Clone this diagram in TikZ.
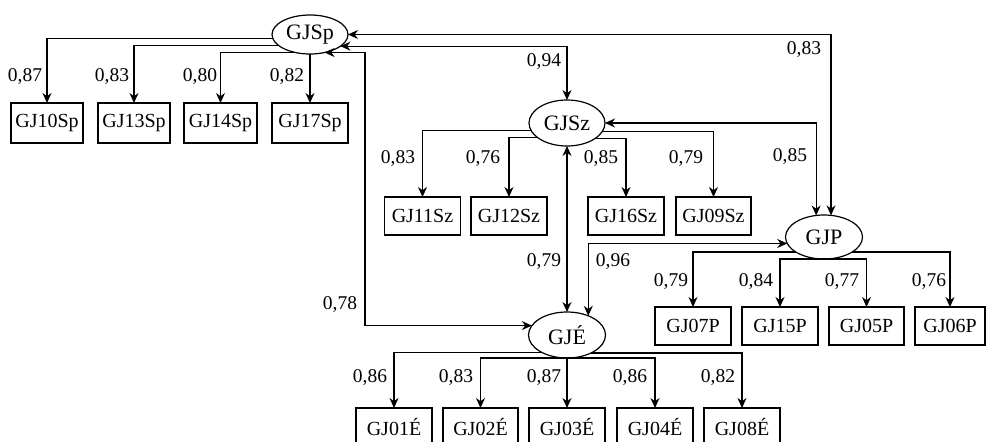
\documentclass[tikz,border=0pt]{standalone}
\usepackage{fontspec}
\setmainfont{Liberation Serif}
\usetikzlibrary{arrows.meta,shapes.geometric}
\tikzset{
  lat/.style={ellipse, draw, line width=1.2pt, fill=white, inner sep=0pt, outer sep=0pt,
    minimum width=76pt, minimum height=#1, font=\fontsize{22}{24}\selectfont},
  lat/.default=40pt,
  ind/.style={rectangle, draw, line width=1.2pt, inner sep=0pt, outer sep=0pt,
    minimum height=38pt, minimum width=75pt, font=\fontsize{20}{22}\selectfont},
  coef/.style={inner sep=0pt, font=\fontsize{19.5}{21}\selectfont},
  arr/.style={line width=1.2pt, -{Stealth[length=10pt,width=9pt]}},
  barr/.style={line width=1.2pt, {Stealth[length=10pt,width=9pt]}-{Stealth[length=10pt,width=9pt]}},
}
\begin{document}
\begin{tikzpicture}[x=1pt,y=-1pt]
\useasboundingbox (0,0) rectangle (986,442);
% latent variables
\node[lat=39pt] (GJSp) at (310,34.5) {GJSp};
\node[lat=46pt] (GJSz) at (567,123) {GJSz};
\node[lat=46pt, minimum width=77pt] (GJE) at (567,335) {GJÉ};
\node[lat=44pt, minimum width=77pt] (GJP) at (824,237) {GJP};
% indicators GJSp
\node[ind, minimum width=72pt, minimum height=40pt] (GJ10Sp) at (47,123) {GJ10Sp};
\node[ind, minimum width=72pt, minimum height=40pt] (GJ13Sp) at (134,123) {GJ13Sp};
\node[ind, minimum width=73pt, minimum height=40pt] (GJ14Sp) at (220.5,123) {GJ14Sp};
\node[ind, minimum width=76pt, minimum height=40pt] (GJ17Sp) at (310,123) {GJ17Sp};
% indicators GJSz
\node[ind, minimum width=76pt] (GJ11Sz) at (422.5,216) {GJ11Sz};
\node[ind, minimum width=76pt] (GJ12Sz) at (509,216) {GJ12Sz};
\node[ind, minimum width=76pt] (GJ16Sz) at (626,216) {GJ16Sz};
\node[ind, minimum width=75pt] (GJ09Sz) at (713.5,216) {GJ09Sz};
% indicators GJP
\node[ind, minimum width=76pt] (GJ07P) at (693,326) {GJ07P};
\node[ind, minimum width=76pt] (GJ15P) at (780,326) {GJ15P};
\node[ind, minimum width=75pt] (GJ05P) at (866.5,326) {GJ05P};
\node[ind, minimum width=70pt] (GJ06P) at (950,326) {GJ06P};
% indicators GJE
\node[ind, minimum width=76pt] (GJ01E) at (394,427) {GJ01É};
\node[ind, minimum width=75pt] (GJ02E) at (480.5,427) {GJ02É};
\node[ind, minimum width=76pt] (GJ03E) at (567,427) {GJ03É};
\node[ind, minimum width=76pt] (GJ04E) at (655,427) {GJ04É};
\node[ind, minimum width=76pt] (GJ08E) at (742,427) {GJ08É};
% loadings GJSp
\draw[arr] (GJSp.186.1) -| (GJ10Sp.north);
\draw[arr] (GJSp.200.5) -| (GJ13Sp.north);
\draw[arr] (GJSp.230.9) -| (GJ14Sp.north);
\draw[arr] (GJSp.south) -- (GJ17Sp.north);
% correlations
\draw[barr] (GJSp.east) -| (GJP.72);
\draw[barr] (GJSp.339.5) -| (GJSz.north);
\coordinate (k78) at (365,200);
\draw[barr] (GJSp.309.1) -| (k78) |- (GJE.165.7);
\draw[barr] (GJSz.east) -| (GJP.110.4);
\draw[barr] (GJSz.south) -- (GJE.north);
\draw[barr] (GJE.42.6) |- (GJP.190.9);
% loadings GJSz
\draw[arr] (GJSz.192.7) -| (GJ11Sz.north);
\draw[arr] (GJSz.207.5) -| (GJ12Sz.north);
\draw[arr] (GJSz.332.5) -| (GJ16Sz.north);
\draw[arr] (GJSz.347.3) -| (GJ09Sz.north);
% loadings GJE
\draw[arr] (GJE.216.9) -| (GJ01E.north);
\draw[arr] (GJE.south) -| (GJ02E.north);
\draw[arr] (GJE.south) -- (GJ03E.north);
\draw[arr] (GJE.south) -| (GJ04E.north);
\draw[arr] (GJE.323.1) -| (GJ08E.north);
% loadings GJP
\draw[arr] (GJP.208) -| (GJ07P.north);
\draw[arr] (GJP.south) -| (GJ15P.north);
\draw[arr] (GJP.south) -| (GJ05P.north);
\draw[arr] (GJP.332) -| (GJ06P.north);
% coefficient labels
\node[coef] (c1) at (25,77) {0,87};
\node[coef] (c2) at (112,77) {0,83};
\node[coef] (c3) at (200,77) {0,80};
\node[coef] (c4) at (287,77) {0,82};
\node[coef] (c5) at (544,62) {0,94};
\node[coef] (c6) at (804,50) {0,83};
\node[coef] (c7) at (398,159) {0,83};
\node[coef] (c8) at (483,159) {0,76};
\node[coef] (c9) at (601,159) {0,85};
\node[coef] (c10) at (686,159) {0,79};
\node[coef] (c11) at (790,157) {0,85};
\node[coef] (c12) at (544,262) {0,79};
\node[coef] (c13) at (613,262) {0,96};
\node[coef] (c14) at (340,305) {0,78};
\node[coef] (c15) at (671,282) {0,79};
\node[coef] (c16) at (756,282) {0,84};
\node[coef] (c17) at (842,282) {0,77};
\node[coef] (c18) at (929,282) {0,76};
\node[coef] (c19) at (370,378) {0,86};
\node[coef] (c20) at (456,378) {0,83};
\node[coef] (c21) at (544,378) {0,87};
\node[coef] (c22) at (630,378) {0,86};
\node[coef] (c23) at (718,378) {0,82};
\end{tikzpicture}
\end{document}
